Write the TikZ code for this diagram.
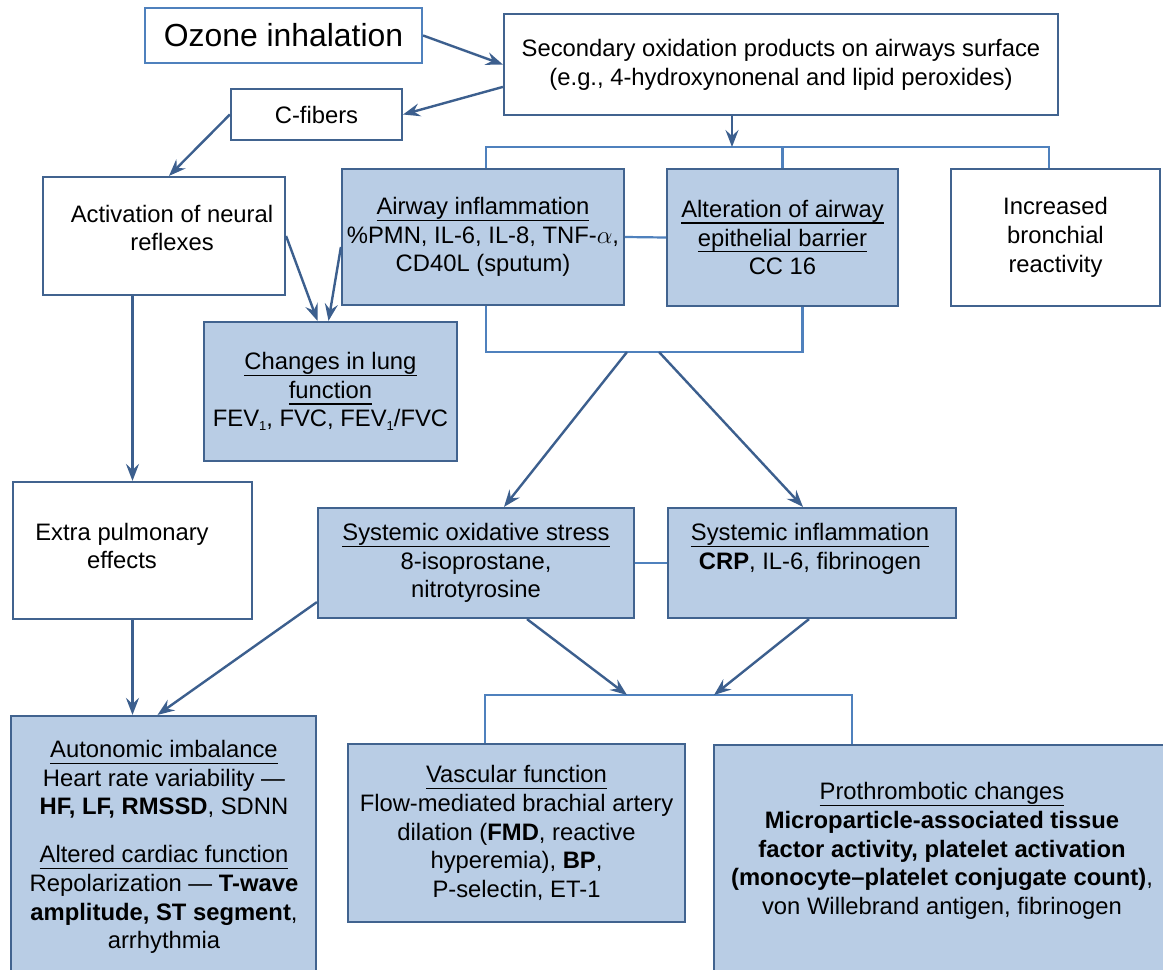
\documentclass[tikz,border=0pt]{standalone}
\usepackage{fontspec}
\setmainfont{Liberation Sans}
\usetikzlibrary{arrows.meta,calc}
\definecolor{boxfill}{HTML}{B9CDE5}
\definecolor{boxline}{HTML}{41638F}
\definecolor{arrcol}{HTML}{3C5F8E}
\definecolor{brkcol}{HTML}{4F81BD}
\newcommand{\ul}[1]{{\setbox0\hbox{#1}\rlap{\rule[-6.4pt]{\wd0}{1.3pt}}\box0}}
\newcommand{\sbone}{\raisebox{-4pt}{\fontsize{13pt}{13pt}\selectfont 1}}
\newcommand{\bodyfont}{\fontsize{23.8pt}{28.7pt}\selectfont}
\newcommand{\ozfont}{\fontsize{31.9pt}{36pt}\selectfont}
\begin{document}
\begin{tikzpicture}[x=1pt,y=-1pt,
  box/.style={draw=boxline, line width=2.2pt, fill=boxfill, inner sep=0pt, align=center, font=\bodyfont},
  wbox/.style={box, fill=white},
  txt/.style={inner sep=0pt, align=center, font=\bodyfont},
  arr/.style={draw=arrcol, line width=2.4pt, -{Stealth[length=17pt,width=13pt,inset=6pt]}},
  brk/.style={draw=brkcol, line width=2.2pt}]
\clip (0,0) rectangle (1163,970);
\fill[white] (0,0) rectangle (1163,970);

% boxes
\node[wbox, draw=brkcol, minimum width=277pt, minimum height=55pt, font=\ozfont] (ozone) at (283.5,35.5) {Ozone inhalation};
\node[wbox, minimum width=554pt, minimum height=101pt] (sec) at (781,64.5) {Secondary oxidation products on airways surface\\(e.g., 4-hydroxynonenal and lipid peroxides)};
\node[wbox, minimum width=171pt, minimum height=51pt] (cfib) at (316.5,114.5) {C-fibers};
\node[wbox, minimum width=242pt, minimum height=118pt] (act) at (164,236) {};
\node[txt] (acttxt) at (172,228) {Activation of neural\\reflexes};
\node[box, minimum width=282pt, minimum height=136pt] (airw) at (483,237) {\ul{Airway inflammation}\\\%PMN, IL-6, IL-8, TNF-$\alpha$,\\CD40L (sputum)};
\node[box, minimum width=231pt, minimum height=137pt] (alt) at (782.5,237.5) {\ul{Alteration of airway}\\\ul{epithelial barrier}\\CC 16};
\node[wbox, minimum width=209pt, minimum height=137pt] (incr) at (1055.5,237.5) {Increased\\bronchial\\reactivity};
\node[box, minimum width=253pt, minimum height=139pt] (lung) at (330.5,391.5) {\ul{Changes in lung}\\\ul{function}\\FEV\sbone, FVC, FEV\sbone/FVC};
\node[wbox, minimum width=239pt, minimum height=137pt] (extra) at (132.5,550.5) {};
\node[txt] (extratxt) at (122,546) {Extra pulmonary\\effects};
\node[box, minimum width=316pt, minimum height=110pt] (oxs) at (476,563) {\ul{Systemic oxidative stress}\\8-isoprostane,\\nitrotyrosine};
\node[box, minimum width=288pt, minimum height=110pt] (sinf) at (812,563) {};
\node[txt] (sinftxt) at (810,549) {\ul{Systemic inflammation}\\\textbf{CRP}, IL-6, fibrinogen};
\node[box, minimum width=305pt, minimum height=274pt] (auton) at (163.5,853) {};
\node[txt] (autontxt) at (164,847) {\ul{Autonomic imbalance}\\Heart rate variability —\\\textbf{HF, LF, RMSSD}, SDNN\\[19pt]\ul{Altered cardiac function}\\Repolarization — \textbf{T-wave}\\\textbf{amplitude, ST segment},\\arrhythmia};
\node[box, minimum width=337pt, minimum height=178pt] (vasc) at (516.5,833) {\ul{Vascular function}\\Flow-mediated brachial artery\\dilation (\textbf{FMD}, reactive\\hyperemia), \textbf{BP},\\P-selectin, ET-1};
\node[box, minimum width=466pt, minimum height=245pt] (proth) at (947,867.5) {};
\node[txt] (prothtxt) at (942,851) {\ul{Prothrombotic changes}\\\textbf{Microparticle-associated tissue}\\\textbf{factor activity, platelet activation}\\\textbf{(monocyte–platelet conjugate count)},\\von Willebrand antigen, fibrinogen};

% bracket coordinates
\coordinate (ub) at (732,147);
\coordinate (ubL) at (486,147);
\coordinate (ubR) at (1049,147);
\coordinate (lb) at (644,352);
\coordinate (lbA) at (627,352);
\coordinate (lbB) at (659,352);
\coordinate (b2L) at (485,695);
\coordinate (b2R) at (852,695);
\coordinate (b2a) at (627,695);
\coordinate (b2b) at (714,695);

% brackets and plain links
\draw[brk] (ubL |- airw.north) -- (ubL) -- (ubR) -- (ubR |- incr.north);
\draw[brk] (alt.north) -- (alt.north |- ub);
\draw[brk] (airw.east) -- (alt.west);
\draw[brk] ($(airw.south)+(3,0)$) |- (lb) -| ($(alt.south)+(20,0)$);
\draw[brk] (oxs.east) -- (sinf.west);
\draw[brk] (b2L |- vasc.north) -- (b2L) -- (b2R) -- (b2R |- proth.north);

% arrows
\draw[arr] (ozone.east) -- (sec.west);
\draw[arr] ($(sec.north west)+(0,74)$) -- (cfib.east);
\draw[arr] (cfib.west) -- ($(act.north)+(5,0)$);
\draw[arr] (sec.south -| ub) -- (ub);
\draw[arr] (act.east) -- ($(lung.north)+(-13,0)$);
\draw[arr] ($(airw.west)+(0,10)$) -- ($(lung.north)+(-2,0)$);
\draw[arr] (act.south -| extra.north) -- (extra.north);
\draw[arr] (lbA) -- ($(oxs.north)+(28,0)$);
\draw[arr] (lbB) -- ($(sinf.north)+(-9,0)$);
\draw[arr] (extra.south) -- (extra.south |- auton.north);
\draw[arr] ($(oxs.south west)+(0,-17)$) -- ($(auton.north)+(-6,0)$);
\draw[arr] ($(oxs.south)+(51,0)$) -- (b2a);
\draw[arr] ($(sinf.south)+(-3,0)$) -- (b2b);
\end{tikzpicture}
\end{document}
